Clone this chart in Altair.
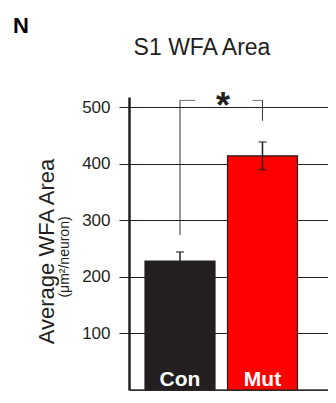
import altair as alt
import pandas as pd

# ---- data ----
groups = ["Con", "Mut"]
means = [228, 414]
errors = [16, 24.5]
bar_colors = ["#231f20", "#ff0000"]
y_ticks = [100, 200, 300, 400, 500]
bracket_groups = ["Con", "Mut"]
bracket_low = [274, 476]
bracket_top = [512, 512]
sig_label = ["*"]
panel_label = ["N"]
title_label = ["S1 WFA Area"]
y_title = "Average WFA Area"
y_subtitle = ["(μm²/neuron)"]

df = pd.DataFrame({"group": groups, "mean": means, "err": errors})
df["lo"] = df["mean"] - df["err"]
df["hi"] = df["mean"] + df["err"]
br = pd.DataFrame({"group": bracket_groups, "low": bracket_low, "top": bracket_top})
sig = pd.DataFrame({"label": sig_label, "top": bracket_top[:1]})
panel = pd.DataFrame({"label": panel_label})
ttl = pd.DataFrame({"label": title_label})
sub = pd.DataFrame({"label": y_subtitle})

FONT = "Arial"
INK = "#231f20"
W, H = 199, 293

xscale = alt.Scale(domain=groups, paddingInner=0.1515, paddingOuter=0.282, align=0.344)
yscale = alt.Scale(domain=[0, 518], nice=False, zero=True)

x_enc = alt.X("group:N", scale=xscale,
              axis=alt.Axis(labels=False, ticks=False, title=None, grid=False,
                            domainColor="#333333", domainWidth=2.5))
y_axis = alt.Axis(values=y_ticks, grid=True, gridColor=INK, gridWidth=1,
                  tickSize=10, tickColor=INK, tickWidth=1,
                  labelFontSize=17, labelFont=FONT, labelColor=INK, labelPadding=9,
                  domainColor=INK, domainWidth=2.5,
                  title=y_title, titleFont=FONT, titleFontSize=22,
                  titleFontWeight="normal", titleColor=INK, titleAngle=270,
                  titleX=-76, titleY=154, titleBaseline="alphabetic", titleAlign="center")

base = alt.Chart(df)

bars = base.mark_bar(stroke=INK, strokeWidth=1.2).encode(
    x=x_enc,
    y=alt.Y("mean:Q", scale=yscale, axis=y_axis),
    color=alt.Color("group:N", scale=alt.Scale(domain=groups, range=bar_colors), legend=None),
)

err_rule = base.mark_rule(color=INK, strokeWidth=1.5).encode(
    x="group:N", y="lo:Q", y2="hi:Q")
cap_hi = base.mark_tick(color=INK, size=8, thickness=1.5).encode(x="group:N", y="hi:Q")
cap_lo = base.mark_tick(color=INK, size=8, thickness=1.5).encode(x="group:N", y="lo:Q")

brc = alt.Chart(br)
br_vert = brc.mark_rule(color="#333333", strokeWidth=1).encode(
    x="group:N", y="low:Q", y2="top:Q")
br_left = brc.transform_filter(alt.datum.group == "Con").mark_tick(
    color="#333333", size=15, thickness=1, xOffset=7.5).encode(x="group:N", y="top:Q")
br_right = brc.transform_filter(alt.datum.group == "Mut").mark_tick(
    color="#333333", size=10, thickness=1, xOffset=-5).encode(x="group:N", y="top:Q")

star = alt.Chart(sig).mark_text(font=FONT, fontWeight="bold", fontSize=36, color=INK,
                                baseline="alphabetic", align="center", dy=18).encode(
    x=alt.value(94), y="top:Q", text="label:N")

names = base.mark_text(font=FONT, fontWeight="bold", fontSize=21, color="white",
                       baseline="alphabetic", align="center", dy=-4).encode(
    x="group:N", y=alt.datum(0), text="group:N")

panel_txt = alt.Chart(panel).mark_text(font=FONT, fontWeight="bold", fontSize=22,
                                       color="black", align="left",
                                       baseline="alphabetic").encode(
    x=alt.value(-116), y=alt.value(-64), text="label:N")

title_txt = alt.Chart(ttl).mark_text(font=FONT, fontSize=23, color=INK,
                                     align="center", baseline="alphabetic").encode(
    x=alt.value(73), y=alt.value(-42), text="label:N")

sub_txt = alt.Chart(sub).mark_text(font=FONT, fontSize=14, color=INK, angle=270,
                                   align="center", baseline="alphabetic").encode(
    x=alt.value(-60), y=alt.value(160), text="label:N")

chart = alt.layer(bars, err_rule, cap_hi, cap_lo, br_vert, br_left, br_right,
                  star, names, panel_txt, title_txt, sub_txt).properties(
    width=W, height=H,
    autosize=alt.AutoSizeParams(type="none"),
    padding={"left": 121, "top": 89, "right": 0, "bottom": 1},
    background="white",
).configure_view(stroke=None)

chart.save("out.html", embed_options={"renderer": "svg", "actions": False})
